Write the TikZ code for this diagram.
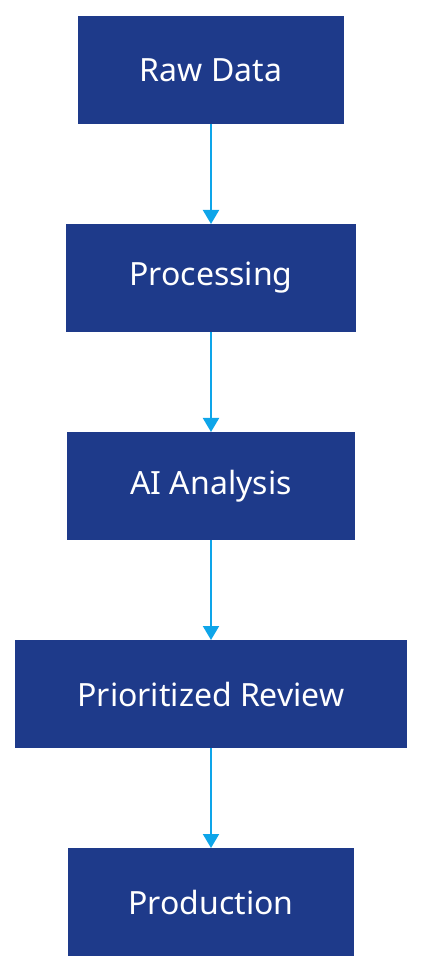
\documentclass[tikz,border=0pt]{standalone}
\usepackage{fontspec}
\setmainfont{Noto Sans}
\usetikzlibrary{positioning, arrows.meta}

\definecolor{boxblue}{HTML}{1E3A8A}
\definecolor{flowblue}{HTML}{0EA5E9}

\begin{document}
\begin{tikzpicture}[x=1bp, y=1bp, node distance=100bp,
    stage/.style={rectangle, fill=boxblue, text=white, minimum height=108bp,
        inner sep=0pt, outer sep=0pt, font=\fontsize{32bp}{38bp}\selectfont},
    flow/.style={draw=flowblue, line width=2bp, -{Triangle[width=16bp, length=14bp]}}]
    \useasboundingbox (0,0) rectangle (422,972);
    \node[stage, minimum width=265bp] (raw) at (211,902) {Raw Data};
    \node[stage, minimum width=289bp, below=of raw] (proc) {Processing};
    \node[stage, minimum width=288bp, below=of proc] (ai) {AI Analysis};
    \node[stage, minimum width=392bp, below=of ai] (review) {Prioritized Review};
    \node[stage, minimum width=286bp, below=of review] (prod) {Production};
    \draw[flow] (raw) -- (proc);
    \draw[flow] (proc) -- (ai);
    \draw[flow] (ai) -- (review);
    \draw[flow] (review) -- (prod);
\end{tikzpicture}
\end{document}
